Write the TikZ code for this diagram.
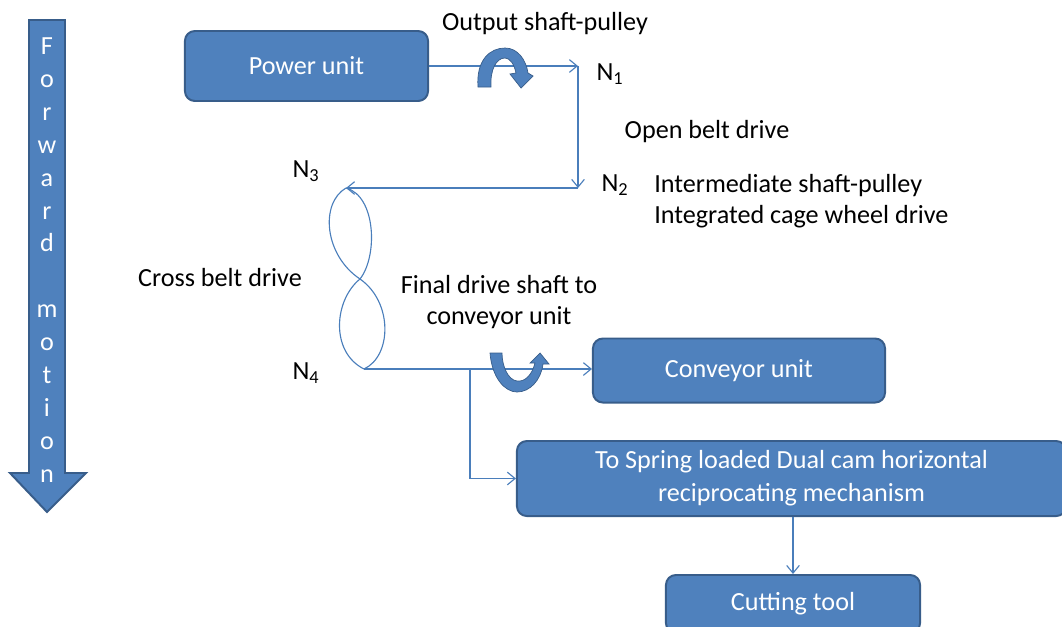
\documentclass[tikz,border=0pt]{standalone}
\usepackage{fontspec}
\setmainfont{Carlito}
\usepackage{xcolor}
\usetikzlibrary{arrows.meta,positioning}

\definecolor{boxblue}{HTML}{4F81BD}
\definecolor{boxedge}{HTML}{385D8A}
\definecolor{beltblue}{HTML}{4A7EBB}

\begin{document}
\begin{tikzpicture}[
    x=0.025cm, y=-0.025cm,
    every node/.style={font=\fontsize{18.6}{22}\selectfont},
    unit/.style={rectangle, rounded corners=7pt, fill=boxblue, draw=boxedge,
      line width=1.4pt, text=white, align=center, inner sep=0pt},
    belt/.style={beltblue, line width=0.8pt},
    link/.style={belt, -{Straight Barb[length=5.5pt, width=9pt]}},
    lbl/.style={inner sep=0pt, align=center},
    turn/.style={fill=boxblue, draw=boxedge, line width=0.5pt}
  ]
    \useasboundingbox (0,0) rectangle (1062,626);

    % Forward motion arrow
    \draw[fill=boxblue, draw=boxedge, line width=1.4pt]
      (29,20) -- (65,20) -- (65,473) -- (86,473) -- (47,512) -- (10,473) -- (29,473) -- cycle;
    \node[lbl, text=white, font=\fontsize{18.6}{23.4}\selectfont] (fwd) at (47,260)
      {F\\o\\r\\w\\a\\r\\d\\[23.4pt]m\\o\\t\\i\\o\\n};

    % Units
    \node[unit, minimum width=6.075cm, minimum height=1.75cm] (pu) at (306.5,66) {Power unit};
    \node[unit, minimum width=7.3cm, minimum height=1.6cm] (conv) at (739,370.5) {Conveyor unit};
    \node[unit, minimum width=13.725cm, minimum height=1.875cm,
      font=\fontsize{18.6}{23.4}\selectfont] (mech) at (791.5,478.5)
      {To Spring loaded Dual cam horizontal\\reciprocating mechanism};
    \node[unit, minimum width=6.35cm, minimum height=1.45cm] (cut) at (793,604) {Cutting tool};

    % Pulley points
    \coordinate (n1) at (578,66);
    \coordinate (n2) at (578,188);
    \coordinate (n3) at (346,188);
    \coordinate (n4) at (364,369);
    \coordinate (jn) at (470,369);

    % Open belt drive
    \draw[link] (pu.east) -- (n1);
    \draw[link] (n1) -- (n2);
    \draw[link] (n2) -- (n3);

    % Cross belt drive
    \draw[belt] (n3) .. controls (320,203) and (324,255) .. (360,279)
                     .. controls (393,302) and (392,356) .. (n4);
    \draw[belt] (n3) .. controls (376,196) and (378,256) .. (360,279)
                     .. controls (334,300) and (330,352) .. (n4);

    % Final drive
    \draw[link] (n4) -- (n4 -| conv.west);
    \draw[link] (jn) |- (mech.west);
    \draw[link] (mech.south -| cut.north) -- (cut.north);

    % Rotation arrows
    \draw[turn] (478,87) .. controls (476,60) and (490,48) .. (505,48)
      .. controls (518,48) and (526,60) .. (528,73) -- (533,76) -- (521,88) -- (510,74)
      -- (516,73) .. controls (514,64) and (510,58) .. (505,58)
      .. controls (496,58) and (490,70) .. (491,87) -- cycle;
    \draw[turn] (490,353) .. controls (492,378) and (505,392) .. (517,392)
      .. controls (530,392) and (541,380) .. (543,364) -- (549,364) -- (540,353)
      -- (530,363) -- (535,363) .. controls (532,375) and (525,382) .. (517,381)
      .. controls (508,380) and (502,366) .. (502,353) -- cycle;

    % Labels
    \node[lbl] (osp) at (545,24) {Output shaft-pulley};
    \node[lbl] (l1) at (610,74) {N\textsubscript{1}};
    \node[lbl] (obd) at (707,132) {Open belt drive};
    \node[lbl] (l2) at (615,185) {N\textsubscript{2}};
    \node[lbl, align=left, anchor=west] (isp) at (654,201)
      {Intermediate shaft-pulley\\Integrated cage wheel drive};
    \node[lbl] (l3) at (306,171) {N\textsubscript{3}};
    \node[lbl] (cbd) at (220,278) {Cross belt drive};
    \node[lbl] (l4) at (306,373) {N\textsubscript{4}};
    \node[lbl, font=\fontsize{18.6}{22.6}\selectfont] (fds) at (499,302)
      {Final drive shaft to\\conveyor unit};
\end{tikzpicture}
\end{document}
